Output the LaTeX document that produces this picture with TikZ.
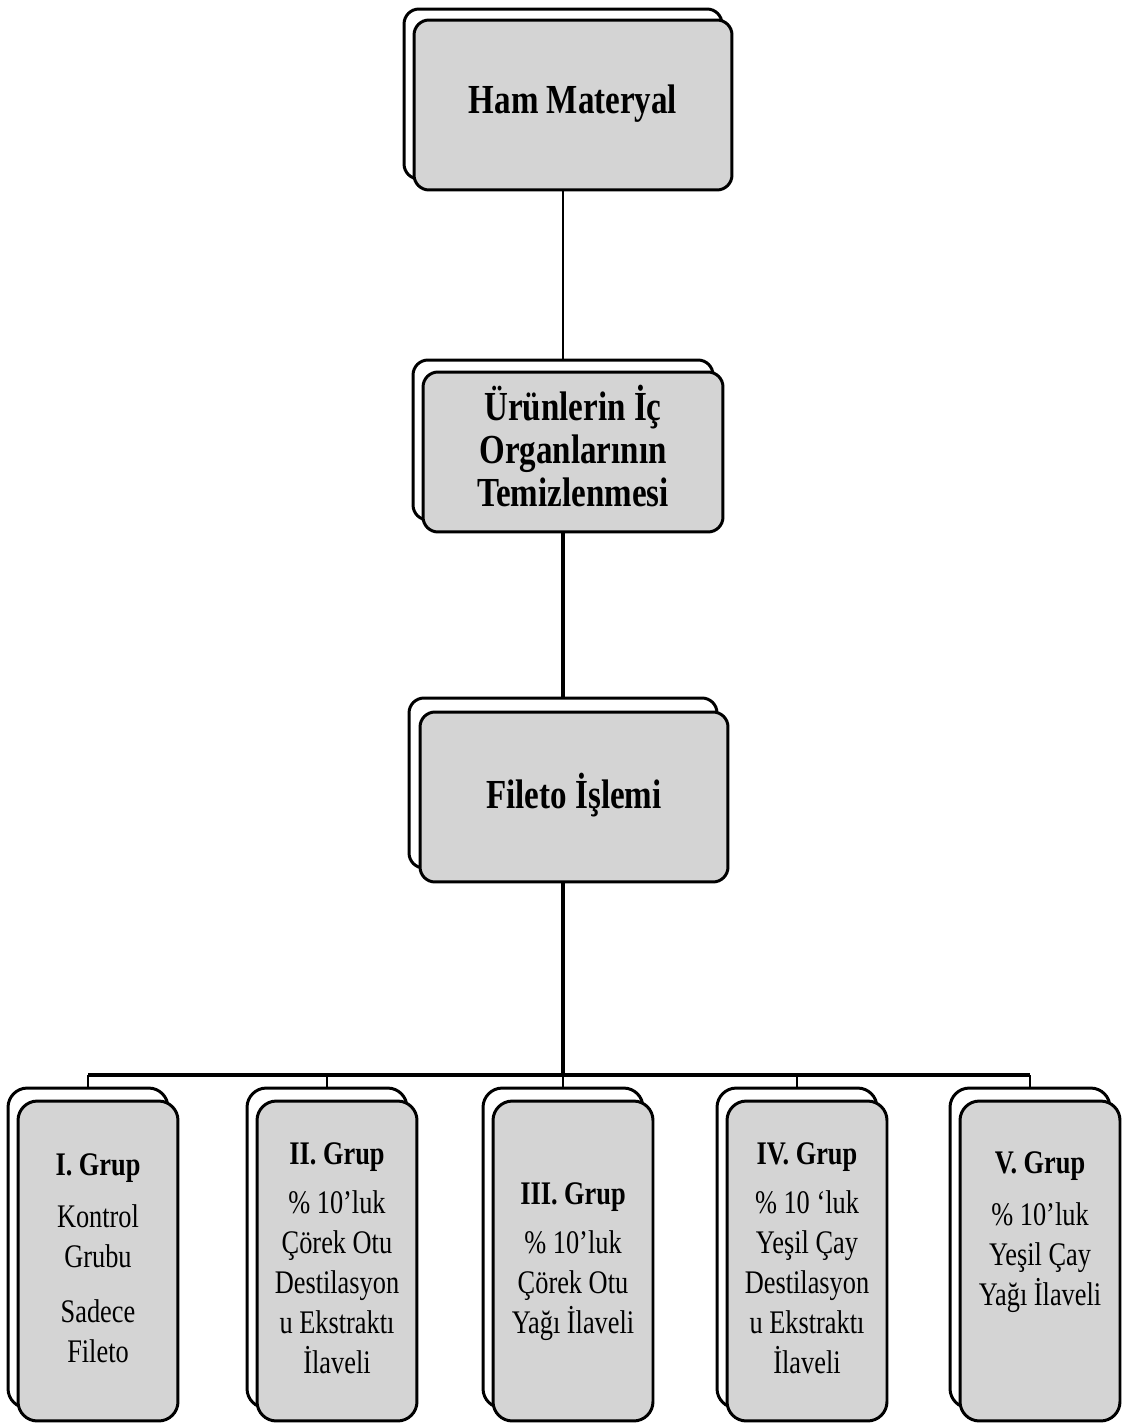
\documentclass[tikz,border=0pt]{standalone}
\usepackage{fontspec}
\setmainfont{Liberation Serif}
\usepackage{graphicx}
\usetikzlibrary{backgrounds}

\definecolor{boxgray}{RGB}{212,212,212}
% text is drawn a little taller than wide, as in the scan
\newcommand{\tallt}[1]{\scalebox{1}[1.25]{\begin{tabular}{@{}c@{}}#1\end{tabular}}}

\tikzset{
  backbox/.style={draw, line width=1.7pt, rounded corners=8.5pt, fill=white},
  frontbox/.style={draw, line width=1.7pt, rounded corners=8.5pt, fill=boxgray, inner sep=0pt},
  grpbox/.style={minimum width=3.2cm, minimum height=6.4cm, rounded corners=11pt},
  topfont/.style={font=\fontsize{18.8}{19.5}\selectfont\bfseries},
  grpfont/.style={font=\fontsize{15}{18.2}\selectfont}
}

\begin{document}
\begin{tikzpicture}[x=0.02cm, y=-0.02cm]
  \useasboundingbox (0,0) rectangle (1128,1425);

  % upper chain
  \node[backbox, minimum width=6.36cm, minimum height=3.4cm] at (563,94) (ham-b) {};
  \node[frontbox, minimum width=6.36cm, minimum height=3.4cm, topfont] at (573,105) (ham) {\tallt{Ham Materyal}};

  \node[backbox, minimum width=6.0cm, minimum height=3.2cm] at (563,440) (temiz-b) {};
  \node[frontbox, minimum width=6.0cm, minimum height=3.2cm, topfont] at (573,452) (temiz) {\tallt{Ürünlerin İç\\ Organlarının\\ Temizlenmesi}};

  \node[backbox, minimum width=6.16cm, minimum height=3.4cm] at (563,783) (fileto-b) {};
  \node[frontbox, minimum width=6.16cm, minimum height=3.4cm, topfont] at (574,797) (fileto) {\tallt{Fileto İşlemi}};

  % groups
  \node[backbox, grpbox] at (88,1248) (g1-b) {};
  \node[frontbox, grpbox, grpfont] at (98,1261) (g1) {\tallt{{\bfseries I. Grup}\\[5.4pt] Kontrol\\ Grubu\\[6.8pt] Sadece\\ Fileto}};

  \node[backbox, grpbox] at (327,1248) (g2-b) {};
  \node[frontbox, grpbox, grpfont] at (337,1261) (g2) {\tallt{{\bfseries II. Grup}\\[4.5pt] \% 10’luk\\ Çörek Otu\\ Destilasyon\\ u Ekstraktı\\ İlaveli}};

  \node[backbox, grpbox] at (563,1248) (g3-b) {};
  \node[frontbox, grpbox, grpfont] at (573,1261) (g3) {\tallt{{\bfseries III. Grup}\\[4.5pt] \% 10’luk\\ Çörek Otu\\ Yağı İlaveli}};

  \node[backbox, grpbox] at (797,1248) (g4-b) {};
  \node[frontbox, grpbox, grpfont] at (807,1261) (g4) {\tallt{{\bfseries IV. Grup}\\[4.5pt] \% 10 ‘luk\\ Yeşil Çay\\ Destilasyon\\ u Ekstraktı\\ İlaveli}};

  \node[backbox, grpbox] at (1030,1248) (g5-b) {};
  \node[frontbox, grpbox, grpfont] at (1040,1261) (g5) {\tallt{{\bfseries V. Grup}\\[5.4pt] \% 10’luk\\ Yeşil Çay\\ Yağı İlaveli\\[27pt]}};

  \coordinate (bar) at (563,1075);

  % connectors behind the boxes
  \begin{scope}[on background layer]
    \draw[line width=1.2pt] (ham-b) -- (temiz-b);
    \draw[line width=2.2pt] (temiz-b) -- (fileto-b);
    \draw[line width=2.2pt] (fileto-b) -- (bar);
    \draw[line width=2pt] (g1-b |- bar) -- (g5-b |- bar);
    \foreach \g in {g1,g2,g3,g4,g5}
      \draw[line width=1.2pt] (\g-b) -- (\g-b |- bar);
  \end{scope}
\end{tikzpicture}
\end{document}
